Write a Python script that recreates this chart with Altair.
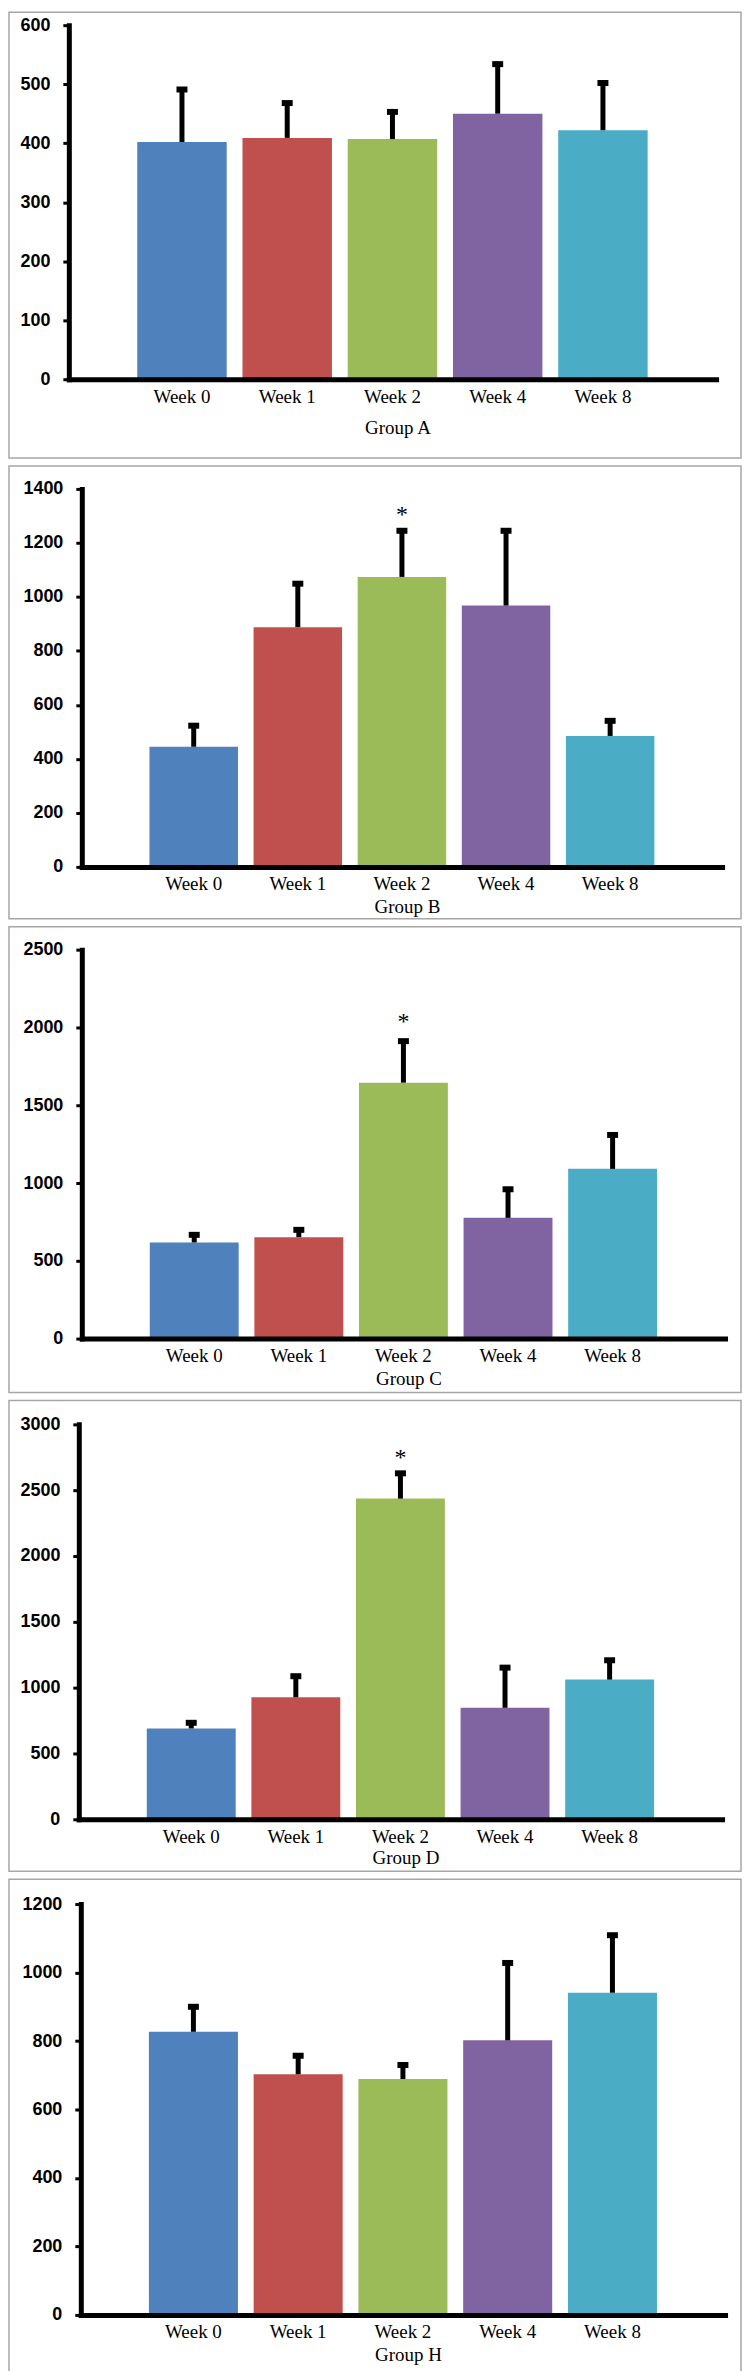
import altair as alt
import pandas as pd

weeks = ["Week 0", "Week 1", "Week 2", "Week 4", "Week 8"]
groups = ["Group A", "Group B", "Group C", "Group D", "Group H"]
colors = ["#4F81BD", "#C0504D", "#9BBB59", "#8064A2", "#4BACC6"]

mean_a = [402, 409, 407, 450, 422]
err_a = [89, 59, 46, 84, 80]
mean_b = [445, 888, 1074, 968, 485]
err_b = [78, 161, 171, 277, 56]
mean_c = [618, 652, 1645, 776, 1091]
err_c = [49, 47, 267, 184, 218]
mean_d = [690, 927, 2436, 847, 1061]
err_d = [43, 160, 192, 305, 147]
mean_h = [827, 703, 689, 802, 941]
err_h = [73, 54, 41, 226, 168]

y_max = [600, 1400, 2500, 3000, 1200]
y_step = [100, 200, 500, 500, 200]
star_week = "Week 2"
star_value = [None, 1322, 2068, 2780, None]

means = [mean_a, mean_b, mean_c, mean_d, mean_h]
errs = [err_a, err_b, err_c, err_d, err_h]

# geometry (pixels): common frame; per panel axis shift a, axis length w,
# space above plot T, plot height H, space below B, x-title padding tp
FL = 60       # frame left of plot origin
PW = 673      # plot area width
FR = 1        # frame right of plot area
geom = [
    dict(a=0, w=649, T=13, H=355, B=79, tp=12),
    dict(a=13, w=642, T=23, H=379, B=52, tp=4),
    dict(a=13, w=645, T=23, H=390, B=54, tp=4),
    dict(a=10, w=645, T=24, H=396, B=52, tp=2),
    dict(a=12, w=646, T=25, H=412, B=57, tp=4),
]

SERIF = "Liberation Serif"
SANS = "Liberation Sans"


def panel(i):
    g = geom[i]
    H = g["H"]
    df = pd.DataFrame({
        "week": weeks,
        "mean": means[i],
        "top": [m + e for m, e in zip(means[i], errs[i])],
    })
    yscale = alt.Scale(domain=[0, y_max[i]], nice=False, zero=True)
    xscale = alt.Scale(domain=weeks, paddingInner=0.15, paddingOuter=0.65,
                       range=[g["a"], g["a"] + g["w"]])
    xaxis = alt.Axis(
        title=groups[i], labelAngle=0, ticks=False, labelPadding=8,
        titlePadding=g["tp"], domainWidth=5, domainColor="black",
        domainCap="square", labelFont=SERIF, labelFontSize=19,
        labelColor="black", titleFont=SERIF, titleFontSize=19,
        titleFontWeight="normal", titleColor="black", grid=False, zindex=1,
        titleX=g["a"] + g["w"] / 2 + 5,
    )
    yaxis = alt.Axis(
        values=list(range(0, y_max[i] + 1, y_step[i])), title=None, grid=False,
        format="d",
        domainWidth=5, domainColor="black", domainCap="square",
        tickColor="black", tickWidth=3, tickSize=6, labelPadding=13,
        labelFont=SANS, labelFontWeight="bold", labelFontSize=18,
        labelColor="black", zindex=1, offset=-g["a"],
    )
    base = alt.Chart(df)
    frame = alt.Chart(pd.DataFrame({"f": [0]})).mark_rect(
        fill="white", fillOpacity=0, stroke="#a6a6a6", strokeWidth=1.5
    ).encode(
        x=alt.value(-FL), x2=alt.value(PW + FR),
        y=alt.value(-g["T"]), y2=alt.value(H + g["B"]),
    )
    bars = base.mark_bar().encode(
        x=alt.X("week:N", sort=weeks, scale=xscale, axis=xaxis),
        y=alt.Y("mean:Q", scale=yscale, axis=yaxis),
        color=alt.Color("week:N", scale=alt.Scale(domain=weeks, range=colors), legend=None),
    )
    rule = base.mark_rule(color="black", strokeWidth=5).encode(
        x=alt.X("week:N", sort=weeks, scale=xscale),
        y=alt.Y("mean:Q", scale=yscale),
        y2="top:Q",
    )
    cap = base.mark_tick(color="black", size=11, thickness=6, opacity=1).encode(
        x=alt.X("week:N", sort=weeks, scale=xscale),
        y=alt.Y("top:Q", scale=yscale),
    )
    layers = [frame, bars, rule, cap]
    if star_value[i] is not None:
        sdf = pd.DataFrame({"week": [star_week], "star": [star_value[i]]})
        star = alt.Chart(sdf).mark_text(
            text="*", font=SERIF, fontSize=24, color="black", baseline="middle", dy=5
        ).encode(
            x=alt.X("week:N", sort=weeks, scale=xscale),
            y=alt.Y("star:Q", scale=yscale),
        )
        layers.append(star)
    return alt.layer(*layers).properties(width=PW, height=H)


chart = alt.vconcat(*[panel(i) for i in range(5)], spacing=6).properties(
    padding=0
).configure_view(strokeWidth=0)

chart.save("out.html", embed_options={"renderer": "svg", "actions": False})
